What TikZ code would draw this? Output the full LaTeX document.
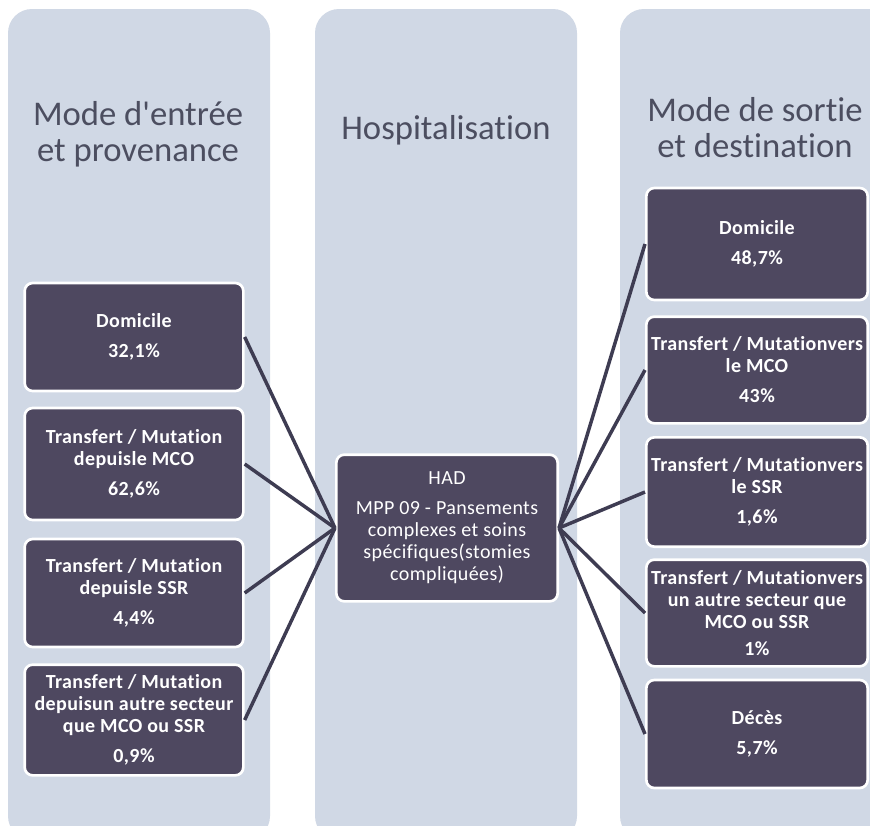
\documentclass[tikz,border=0pt]{standalone}
\usepackage{fontspec}
\setmainfont[Ligatures={TeX,NoCommon}]{Carlito}
\newfontfamily\boxfont[LetterSpace=2,Ligatures={TeX,NoCommon}]{Carlito}
\usepackage{tikz}
\usepackage{xcolor}

\definecolor{colfond}{RGB}{208,216,229}
\definecolor{boitefond}{RGB}{78,72,96}
\definecolor{titregris}{RGB}{76,78,96}
\definecolor{liengris}{RGB}{62,60,82}

\tikzset{
    colonne/.style={fill=colfond, rounded corners=18pt},
    titre/.style={text=titregris, align=center, font=\fontsize{26}{27}\selectfont},
    boite/.style={fill=boitefond, draw=white, line width=2pt, rounded corners=6pt,
        text=white, align=center, minimum width=164pt, minimum height=81pt, inner sep=2pt,
        font=\boxfont\bfseries\fontsize{15}{16.5}\selectfont},
    lien/.style={draw=liengris, line width=2.6pt}
}

\begin{document}
\begin{tikzpicture}[x=0.75pt, y=-0.75pt]
                \clip (0,0) rectangle (870,825);
                \fill[white] (0,0) rectangle (870,825);
                % les trois colonnes
                \fill[colonne] (8,9) rectangle (270,840);
                \fill[colonne] (315,9) rectangle (577,840);
                \fill[colonne] (620,9) rectangle (900,840);
                \node[titre] (tin) at (138,134) {Mode d\textquotesingle entrée\\et provenance};
                \node[titre] (thosp) at (446,130) {Hospitalisation};
                \node[titre] (tout) at (755,128) {Mode de sortie\\et destination};
                % entree
                \node[boite] (in1) at (134,337) {Domicile\\[6pt]32,1\%};
                \node[boite, minimum height=84pt] (in2) at (134,464) {Transfert / Mutation\\depuisle MCO\\[6pt]62,6\%};
                \node[boite] (in3) at (134,593) {Transfert / Mutation\\depuisle SSR\\[6pt]4,4\%};
                \node[boite, minimum height=83pt] (in4) at (134,720) {Transfert / Mutation\\depuisun autre secteur\\que MCO ou SSR\\[6pt]0,9\%};
                % hospitalisation
                \node[boite, minimum width=166pt, minimum height=110pt,
                      font=\boxfont\fontsize{15}{16.5}\selectfont] (had) at (447,528)
                      {HAD\\[6pt]MPP 09 - Pansements\\complexes et soins\\spécifiques(stomies\\compliquées)};
                % sortie
                \node[boite, minimum width=166pt, minimum height=84pt] (out1) at (757,244) {Domicile\\[6pt]48,7\%};
                \node[boite, minimum width=166pt, minimum height=80pt] (out2) at (757,370) {Transfert / Mutationvers\\le MCO\\[6pt]43\%};
                \node[boite, minimum width=166pt, minimum height=82pt] (out3) at (757,492) {Transfert / Mutationvers\\le SSR\\[6pt]1,6\%};
                \node[boite, minimum width=166pt, minimum height=80pt] (out4) at (757,613) {Transfert / Mutationvers\\un autre secteur que\\MCO ou SSR\\[4pt]1\%};
                \node[boite, minimum width=166pt] (out5) at (757,734) {Décès\\[6pt]5,7\%};
                \foreach \n in {in1,in2,in3,in4} {
                        \draw[lien] (\n.east) -- (had.west);
                    }
                \foreach \n in {out1,out2,out3,out4,out5} {
                        \draw[lien] (had.east) -- (\n.west);
                    }
            \end{tikzpicture}
\end{document}
